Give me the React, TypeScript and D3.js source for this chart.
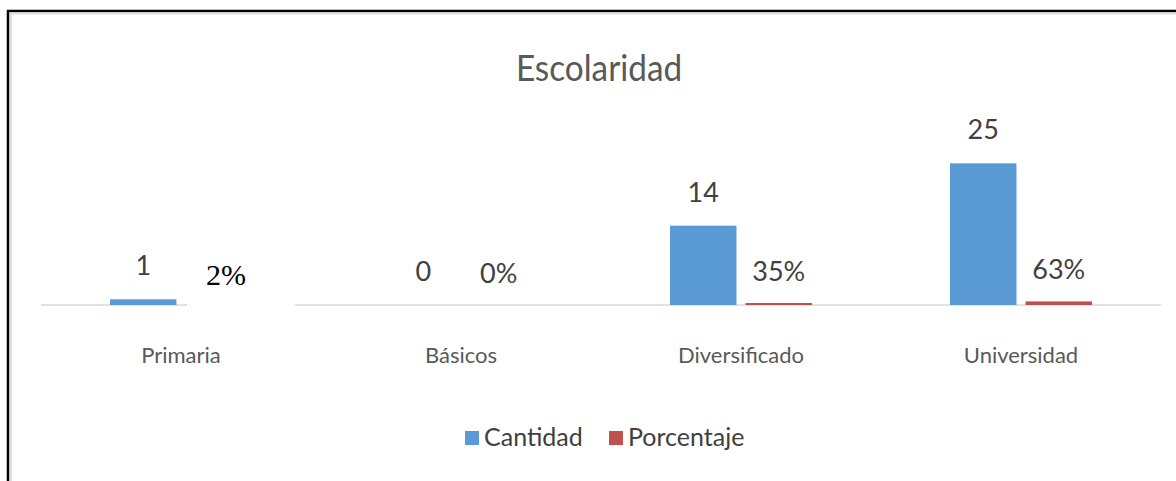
import * as d3 from "d3";

const categories = ["Primaria", "Básicos", "Diversificado", "Universidad"];
const cantidad = [1, 0, 14, 25];
const porcentaje = [0.02, 0, 0.35, 0.63];
const porcentajeLabels = ["2%", "0%", "35%", "63%"];
const seriesNames = ["Cantidad", "Porcentaje"];

const W = 1176;
const H = 481;
const BLUE = "#5B9BD5";
const RED = "#C0504D";
const FONT = "Lato, 'Open Sans', sans-serif";

export default function App() {
  const baseY = 305;
  const x = d3.scaleBand<string>().domain(categories).range([41, 1161]);
  const inner = d3
    .scaleBand<string>()
    .domain(seriesNames)
    .range([69, 211])
    .paddingInner(0.12);
  const y = d3.scaleLinear().domain([0, 30]).range([baseY, 135]);

  return (
    <svg
      width={W}
      height={H}
      style={{ position: "absolute", left: 0, top: 0, background: "#fff" }}
    >
      {/* frame */}
      <line x1={7} y1={11} x2={W} y2={11} stroke="#000" strokeWidth={2.5} />
      <line x1={8} y1={10} x2={8} y2={H} stroke="#000" strokeWidth={2.5} />
      <line x1={10} y1={13.5} x2={W} y2={13.5} stroke="#ddd" strokeWidth={2} />
      <line x1={11} y1={13} x2={11} y2={H} stroke="#ddd" strokeWidth={2} />

      <text
        x={599}
        y={81}
        textAnchor="middle"
        fontFamily={FONT}
        fontSize={37}
        fill="#595959"
        transform="translate(599,0) scale(0.9,1) translate(-599,0)"
      >
        Escolaridad
      </text>

      {/* baseline */}
      <line x1={x.range()[0]} x2={x.range()[1]} y1={baseY} y2={baseY} stroke="#D9D9D9" strokeWidth={1.5} />

      {categories.map((c, i) => {
        const bx = x(c)!;
        const xb = bx + inner("Cantidad")!;
        const xr = bx + inner("Porcentaje")!;
        const bw = inner.bandwidth();
        const yb = y(cantidad[i]);
        const yr = y(porcentaje[i]);
        const serifLabel = i === 0;
        return (
          <g key={c}>
            <rect x={xb} y={yb} width={bw} height={baseY - yb} fill={BLUE} />
            <rect x={xr} y={yr} width={bw} height={baseY - yr} fill={RED} />
            <text
              x={xb + bw / 2}
              y={yb - 24}
              textAnchor="middle"
              fontFamily={FONT}
              fontSize={27}
              fill="#404040"
            >
              {cantidad[i]}
            </text>
            {serifLabel ? (
              <g>
                <rect x={187} y={250} width={108} height={60} fill="#fff" />
                <text
                  x={226}
                  y={285}
                  textAnchor="middle"
                  fontFamily="'Liberation Serif', 'DejaVu Serif', serif"
                  fontSize={30}
                  fill="#000"
                >
                  {porcentajeLabels[i]}
                </text>
              </g>
            ) : (
              <text
                x={xr + bw / 2}
                y={yr - 22}
                textAnchor="middle"
                fontFamily={FONT}
                fontSize={27}
                fill="#404040"
              >
                {porcentajeLabels[i]}
              </text>
            )}
            <text
              x={bx + x.bandwidth() / 2}
              y={363}
              textAnchor="middle"
              fontFamily={FONT}
              fontSize={22}
              fill="#595959"
            >
              {c}
            </text>
          </g>
        );
      })}

      {/* legend */}
      <rect x={465} y={431} width={14} height={14} fill={BLUE} />
      <text x={484} y={446} fontFamily={FONT} fontSize={25} fill="#404040">
        {seriesNames[0]}
      </text>
      <rect x={609} y={431} width={14} height={14} fill={RED} />
      <text x={628} y={446} fontFamily={FONT} fontSize={25} fill="#404040">
        {seriesNames[1]}
      </text>
    </svg>
  );
}
